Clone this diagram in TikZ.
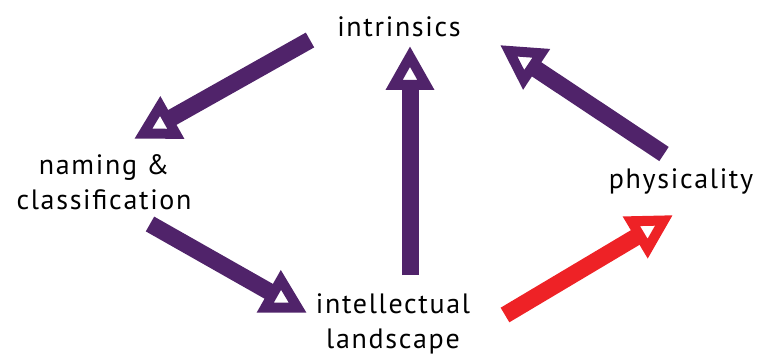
\documentclass[tikz,border=0pt]{standalone}
\usepackage{fontspec}
\setmainfont[LetterSpace=6]{PT Sans}
\usetikzlibrary{arrows.meta}
\definecolor{plum}{HTML}{50236A}
\definecolor{alertred}{HTML}{EE2226}
\tikzset{
  label/.style={font=\fontsize{28}{35}\selectfont, align=center, inner sep=0pt},
  flow/.style={line width=17pt, line cap=butt,
    -{Triangle[open, length=44pt, width=46pt, line width=10pt, line join=miter]}},
}
\begin{document}
\begin{tikzpicture}[x=1pt,y=-1pt]
\useasboundingbox (0,0) rectangle (760,358);
% labels
\node[label] (intr) at (399,27) {intrinsics};
\node[label] (nam) at (104,182) {naming \&\\classification};
\node[label] (phys) at (681,181) {physicality};
\node[label] (land) at (393,324) {intellectual\\landscape};
% arrow end points
\coordinate (a1s) at (310,40);  \coordinate (a1e) at (134,139);
\coordinate (a2s) at (410,275); \coordinate (a2e) at (410,46);
\coordinate (a3s) at (664,154); \coordinate (a3e) at (500,45);
\coordinate (a4s) at (150,224); \coordinate (a4e) at (307,313);
\coordinate (a5s) at (505,315); \coordinate (a5e) at (673,215);
% connectors
\draw[flow, plum] (a1s) -- (a1e);
\draw[flow, plum] (a2s) -- (a2e);
\draw[flow, plum] (a3s) -- (a3e);
\draw[flow, plum] (a4s) -- (a4e);
\draw[flow, alertred] (a5s) -- (a5e);
\end{tikzpicture}
\end{document}
